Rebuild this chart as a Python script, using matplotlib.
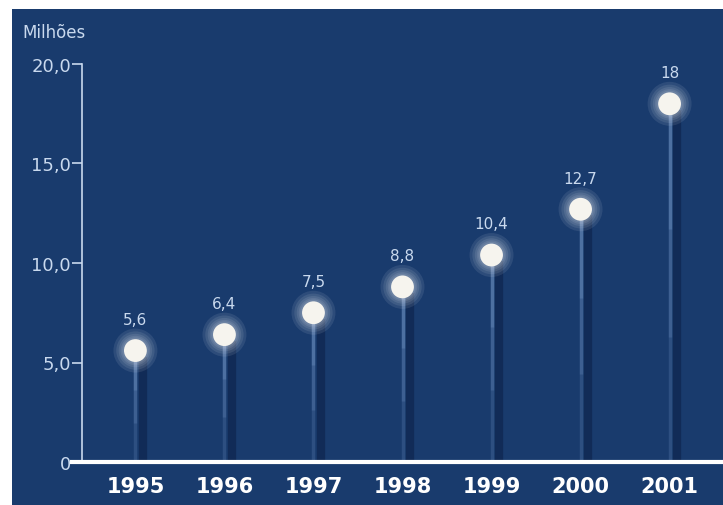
import matplotlib
matplotlib.use("Agg")
import matplotlib.pyplot as plt
from matplotlib.patches import Rectangle

years = ["1995", "1996", "1997", "1998", "1999", "2000", "2001"]
values = [5.6, 6.4, 7.5, 8.8, 10.4, 12.7, 18.0]
value_labels = ["5,6", "6,4", "7,5", "8,8", "10,4", "12,7", "18"]
yticks = [0, 5, 10, 15, 20]
ytick_labels = ["0", "5,0", "10,0", "15,0", "20,0"]
unit_label = "Milhões"

BG = "#193b6d"
LIGHT = "#c9d9ee"

fig = plt.figure(figsize=(7.23, 5.06), dpi=100)
fig.patch.set_facecolor("white")
fig.patches.append(Rectangle((12 / 723, 0), 1 - 12 / 723, 1 - 10 / 506,
                             transform=fig.transFigure, facecolor=BG,
                             edgecolor="none", zorder=-10))

ax = fig.add_axes([82 / 723, 1 - 463 / 506, 1 - 82 / 723, (463 - 65) / 506])
ax.set_zorder(5)
ax.set_facecolor("none")
ax.set_xlim(-0.6, 6.6)
ax.set_ylim(0, 20)

x = list(range(len(years)))

# stems: dark shadow + light glowing line brighter near top
for xi, v in zip(x, values):
    ax.vlines(xi + 0.085, 0, v - 0.3, color="#0f2650", lw=6, alpha=0.75, zorder=2)
    for frac, a in [(1.0, 0.2), (0.65, 0.2), (0.35, 0.25)]:
        ax.vlines(xi, v - frac * v, v, color="#7fa3d2", lw=2.5, alpha=a, zorder=3)

# glowing markers (soft halo + bright core)
for s in [1000, 760, 580, 450, 360]:
    ax.scatter(x, values, s=s, color="white", alpha=0.09, edgecolors="none",
               linewidths=0, zorder=4)
ax.scatter(x, values, s=270, color="#f6f4ee", edgecolors="none", linewidths=0,
           zorder=4)

for xi, v, lab in zip(x, values, value_labels):
    ax.annotate(lab, (xi, v), xytext=(0, 17), textcoords="offset points",
                ha="center", va="bottom", color=LIGHT, fontsize=11, zorder=5)

# axes styling
for side in ["top", "right", "bottom"]:
    ax.spines[side].set_visible(False)
ax.spines["left"].set_color(LIGHT)
ax.spines["left"].set_linewidth(1.2)
ax.axhline(0, xmin=-0.016, xmax=1, color="white", lw=3, clip_on=False, zorder=6)

ax.set_yticks(yticks)
ax.set_yticklabels(ytick_labels)
ax.tick_params(axis="y", colors=LIGHT, labelcolor=LIGHT, labelsize=13,
               length=7, width=1.2, pad=1)
ax.set_xticks(x)
ax.set_xticklabels(years)
ax.tick_params(axis="x", length=0, pad=10, labelsize=15, labelcolor="white")
for t in ax.get_xticklabels():
    t.set_fontweight("bold")

fig.text(22 / 723, 1 - 33 / 506, unit_label, color=LIGHT, fontsize=12,
         ha="left", va="center")

fig.savefig("out.png", dpi=100)
